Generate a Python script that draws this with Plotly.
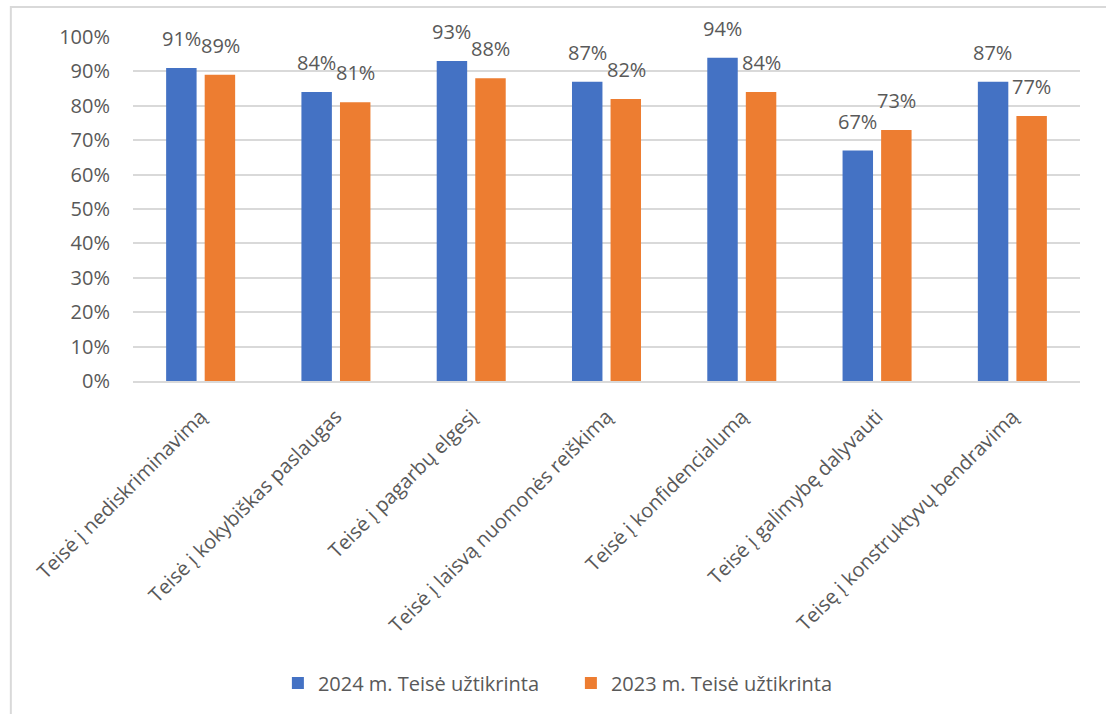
import plotly.graph_objects as go

categories = [
    "Teisė į nediskriminavimą",
    "Teisė į kokybiškas paslaugas",
    "Teisė į pagarbų elgesį",
    "Teisė į laisvą nuomonės reiškimą",
    "Teisė į konfidencialumą",
    "Teisė į galimybę dalyvauti",
    "Teisę į konstruktyvų bendravimą",
]
values_2024 = [91, 84, 93, 87, 94, 67, 87]
values_2023 = [89, 81, 88, 82, 84, 73, 77]
series_names = ["2024 m. Teisė užtikrinta", "2023 m. Teisė užtikrinta"]
y_ticks = [0, 10, 20, 30, 40, 50, 60, 70, 80, 90, 100]

FONT = "Open Sans"
GRAY = "#595959"
BLUE = "#4472C4"
ORANGE = "#ED7D31"

fig = go.Figure()
fig.add_trace(go.Bar(x=categories, y=[v / 100 for v in values_2024], name=series_names[0],
                     marker=dict(color=BLUE, line=dict(width=0))))
fig.add_trace(go.Bar(x=categories, y=[v / 100 for v in values_2023], name=series_names[1],
                     marker=dict(color=ORANGE, line=dict(width=0))))

annotations = []
for cat, v in zip(categories, values_2024):
    annotations.append(dict(x=cat, y=v / 100, xref="x", yref="y", text=f"{v}%", showarrow=False,
                            xshift=-19.5, yshift=14, yanchor="bottom",
                            font=dict(family=FONT, size=20, color=GRAY)))
for cat, v in zip(categories, values_2023):
    annotations.append(dict(x=cat, y=v / 100, xref="x", yref="y", text=f"{v}%", showarrow=False,
                            xshift=19.5, yshift=14, yanchor="bottom",
                            font=dict(family=FONT, size=20, color=GRAY)))

fig.update_layout(
    width=1106, height=714,
    margin=dict(l=133, r=26, t=37, b=333),
    paper_bgcolor="white", plot_bgcolor="white",
    barmode="group", bargap=0.43, bargroupgap=0.21,
    font=dict(family=FONT, size=20, color=GRAY),
    annotations=annotations,
    legend=dict(orientation="h", x=0.153, xanchor="left", y=-0.878, yanchor="middle",
                font=dict(family=FONT, size=20, color=GRAY), traceorder="normal",
                itemsizing="constant", entrywidth=248, entrywidthmode="pixels"),
    shapes=[dict(type="rect", xref="paper", yref="paper", x0=-0.129, x1=1.2, y0=-1.3, y1=1.087,
                 line=dict(color="#d9d9d9", width=2), fillcolor="rgba(0,0,0,0)", layer="below")],
)
fig.update_yaxes(range=[0, 1], tickvals=[t / 100 for t in y_ticks],
                 ticktext=[f"{t}%" for t in y_ticks],
                 showgrid=True, gridcolor="#d9d9d9", gridwidth=1.5, zeroline=False,
                 showline=False, ticks="", ticklabelstandoff=22,
                 tickfont=dict(family=FONT, size=20, color=GRAY))
fig.update_xaxes(tickangle=-45, showline=True, linecolor="#d9d9d9", linewidth=2,
                 ticks="", ticklabelstandoff=14, showgrid=False,
                 tickfont=dict(family=FONT, size=20, color=GRAY))

fig.write_html("out.html")
